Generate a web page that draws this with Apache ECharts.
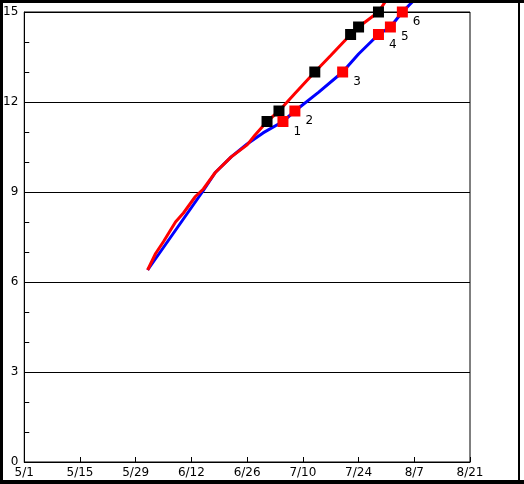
<!DOCTYPE html>
<html>
<head>
<meta charset="utf-8">
<script src="https://cdn.jsdelivr.net/npm/echarts@6/dist/echarts.min.js"></script>
<style>html,body{margin:0;padding:0;background:#fff;}#c{width:524px;height:484px;}</style>
</head>
<body>
<div id="c"></div>
<script>
// Tick labels
const yTicks = [0, 3, 6, 9, 12, 15];
// Blue line
const blueDates = ['6/1','6/15','6/18','6/22','6/26','6/30','7/5','7/8','7/14','7/20','7/24','7/29','8/1','8/4','8/7'];
const blueValues = [6.4, 9.05, 9.65, 10.17, 10.6, 10.97, 11.35, 11.7, 12.33, 13.0, 13.6, 14.25, 14.5, 15.0, 15.4];
// Red line
const redDates = ['6/1','6/3','6/5','6/8','6/10','6/13','6/15','6/18','6/22','6/26','6/28','7/1','7/4','7/8','7/13','7/17','7/22','7/24','7/29','7/31'];
const redValues = [6.4, 6.95, 7.35, 8.0, 8.3, 8.85, 9.1, 9.65, 10.17, 10.57, 10.9, 11.35, 11.7, 12.28, 13.0, 13.55, 14.25, 14.5, 15.0, 15.4];
// Numbered red markers (on blue line)
const redMarkDates = ['7/5','7/8','7/20','7/29','8/1','8/4'];
const markValues = [11.35, 11.7, 13.0, 14.25, 14.5, 15.0];
const markLabels = ['1','2','3','4','5','6'];
// Black markers (on red line)
const blackMarkDates = ['7/1','7/4','7/13','7/22','7/24','7/29'];

const monthLen = {5:31, 6:30, 7:31, 8:31};
function dayOf(s) {
  const [m, d] = s.split('/').map(Number);
  let n = 0;
  for (let k = 5; k < m; k++) n += monthLen[k];
  return n + d - 1;
}
function dateLabel(v) {
  let m = 5, d = Math.round(v) + 1;
  while (d > monthLen[m]) { d -= monthLen[m]; m++; }
  return m + '/' + d;
}
const pair = (ds, vs) => ds.map((d, i) => [dayOf(d), vs[i]]);

const font = 'DejaVu Sans';
const yMin = yTicks[0], yMax = yTicks[yTicks.length - 1];
const chart = echarts.init(document.getElementById('c'), null, {renderer: 'canvas'});
chart.setOption({
  animation: false,
  backgroundColor: '#fff',
  grid: {left: 22, top: 12, width: 448, height: 450, show: true, borderColor: '#000', borderWidth: 1, backgroundColor: 'transparent'},
  xAxis: {
    type: 'value', min: 0, max: 112, interval: 14,
    axisLine: {show: true, onZero: false, lineStyle: {color: '#000', width: 1}},
    axisTick: {show: true, inside: true, length: 5, lineStyle: {color: '#000'}},
    splitLine: {show: false},
    axisLabel: {color: '#000', fontFamily: font, fontSize: 12, margin: 5, formatter: dateLabel, showMinLabel: true, showMaxLabel: true}
  },
  yAxis: [{
    type: 'value', min: yMin, max: yMax, interval: 3,
    axisLine: {show: true, onZero: false, lineStyle: {color: '#000', width: 1}},
    axisTick: {show: true, inside: true, length: 5, lineStyle: {color: '#000'}},
    splitLine: {show: true, lineStyle: {color: '#000', width: 1}},
    axisLabel: {color: '#000', fontFamily: font, fontSize: 12, margin: 6}
  }, {
    type: 'value', min: yMin, max: yMax, interval: 1, position: 'left',
    axisLine: {show: false, onZero: false},
    axisTick: {show: true, inside: true, length: 5, lineStyle: {color: '#000'}},
    splitLine: {show: false},
    axisLabel: {show: false}
  }],
  series: [
    {type: 'line', data: pair(blueDates, blueValues), showSymbol: false, clip: false,
     lineStyle: {color: '#0000ff', width: 3}, z: 2, silent: true},
    {type: 'line', data: pair(redDates, redValues), showSymbol: false, clip: false,
     lineStyle: {color: '#ff0000', width: 3}, z: 3, silent: true},
    {type: 'scatter', data: pair(blackMarkDates, markValues), symbol: 'rect', symbolSize: 11,
     itemStyle: {color: '#000', opacity: 1}, clip: false, z: 5, silent: true},
    {type: 'scatter', data: pair(redMarkDates, markValues).map((p, i) => ({value: p, name: markLabels[i]})),
     symbol: 'rect', symbolSize: 11, itemStyle: {color: '#ff0000', opacity: 1}, clip: false, z: 5, silent: true,
     label: {show: true, position: 'right', distance: 5, offset: [0, 10], formatter: '{b}', color: '#000', fontFamily: font, fontSize: 12}}
  ],
  graphic: [
    {type: 'rect', shape: {x: 0, y: 0, width: 3, height: 484}, style: {fill: '#000'}, z: 100, silent: true},
    {type: 'rect', shape: {x: 0, y: 0, width: 524, height: 3}, style: {fill: '#000'}, z: 100, silent: true},
    {type: 'rect', shape: {x: 0, y: 480, width: 524, height: 4}, style: {fill: '#000'}, z: 100, silent: true},
    {type: 'rect', shape: {x: 518, y: 0, width: 2, height: 484}, style: {fill: '#000'}, z: 100, silent: true}
  ]
});
</script>
</body>
</html>
